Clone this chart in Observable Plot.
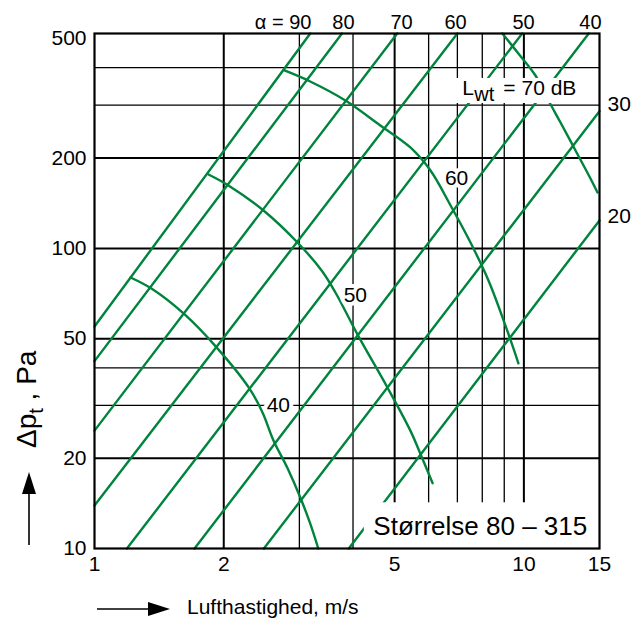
<!DOCTYPE html>
<html>
<head>
<meta charset="utf-8">
<script src="https://cdn.jsdelivr.net/npm/d3@7"></script>
<script src="https://cdn.jsdelivr.net/npm/@observablehq/plot@0.6"></script>
<style>
  html, body { margin: 0; padding: 0; background: #fff; }
</style>
</head>
<body>
<div id="chart"></div>
<script>
// ---------- axes ----------
const speedDomain = [1, 15];          // m/s
const pressureDomain = [10, 520];     // Pa (top border of the drawing)
const xTicks = [1, 2, 5, 10, 15];
const yTicks = [10, 20, 50, 100, 200, 500];
const xGridMajor = [2, 5, 10];
const xGridMinor = [3, 4, 6, 7, 8, 9];
const yGridMajor = [20, 50, 100, 200];
const yGridMinor = [30, 40, 300, 400];

// ---------- damper angle lines (α), two end points each ----------
const alphaAngles = [90, 80, 70, 60, 50, 40, 30, 20];
const alphaStartV = [1, 1, 1, 1, 1.19, 1.71, 2.48, 3.91];
const alphaStartP = [54.9, 42.1, 24.7, 13.9, 10, 10, 10, 10];
const alphaEndV   = [3.18, 3.77, 5.07, 7.00, 9.91, 14.16, 15, 15];
const alphaEndP   = [520, 520, 520, 520, 520, 520, 286.5, 123.9];

// ---------- sound power level curves L_wt ----------
const soundLevels = [40, 50, 60, 70];
const sound40V = [1.213, 1.357, 1.612, 1.924, 2.296, 2.462, 2.611, 2.816, 3.02, 3.18, 3.32];
const sound40P = [80.0, 73.5, 60.7, 46.8, 34.1, 28.4, 22.9, 18.5, 14.7, 12.1, 10];
const sound50V = [1.843, 2.051, 2.475, 2.97, 3.38, 3.64, 4.12, 4.81, 5.44, 5.74, 6.13];
const sound50P = [176.3, 162.1, 133.7, 104.6, 84.4, 71.3, 50.9, 34.4, 24.7, 20.7, 16.5];
const sound60V = [2.77, 3.18, 3.84, 4.63, 5.44, 6.06, 6.75, 7.51, 8.27, 9.06, 9.71];
const sound60P = [391.6, 359.8, 311, 256.8, 216.9, 181.8, 139, 104.6, 78.2, 55.3, 41.4];
const sound70V = [8.91, 9.71, 10.64, 11.41, 12.17, 13.19, 14.29, 14.84];
const sound70P = [520, 446, 376.8, 311, 262.7, 211.9, 171, 153.6];

// ---------- labels ----------
const alphaLabelText = ["α = 90", "80", "70", "60", "50", "40"];
const alphaLabelV = [3.20, 3.80, 5.19, 6.93, 9.98, 14.29];
const sideLabelText = ["30", "20"];
const sideLabelP = [301.6, 127.7];
const curveLabelText = ["60", "50", "40"];
const curveLabelV = [6.97, 4.05, 2.68];
const curveLabelP = [171.7, 69.7, 30.0];
const sizeText = "Størrelse 80 – 315";

// ---------- build tables ----------
const alphaRows = alphaAngles.flatMap((a, i) => [
  {a, v: alphaStartV[i], p: alphaStartP[i]},
  {a, v: alphaEndV[i], p: alphaEndP[i]}
]);
const soundV = [sound40V, sound50V, sound60V, sound70V];
const soundP = [sound40P, sound50P, sound60P, sound70P];
const soundRows = soundLevels.flatMap((lvl, k) =>
  soundV[k].map((v, i) => ({lvl, v, p: soundP[k][i]})));
const alphaLabels = alphaLabelText.map((t, i) => ({t, v: alphaLabelV[i], p: pressureDomain[1]}));
const sideLabels = sideLabelText.map((t, i) => ({t, v: speedDomain[1], p: sideLabelP[i]}));
const curveLabels = curveLabelText.map((t, i) => ({t, v: curveLabelV[i], p: curveLabelP[i]}));

const green = "#00843d";
const ink = "#000";

const chart = Plot.plot({
  width: 633,
  height: 621,
  marginLeft: 94,
  marginRight: 34,
  marginTop: 33,
  marginBottom: 73,
  style: {fontFamily: "'Liberation Sans', Arial, Helvetica, sans-serif", fontSize: "21px", color: ink, background: "#fff", overflow: "visible"},
  x: {type: "log", domain: speedDomain, ticks: xTicks, tickFormat: d => String(d), tickSize: 0, tickPadding: 8, label: null},
  y: {type: "log", domain: pressureDomain, ticks: yTicks, tickFormat: d => String(d), tickSize: 0, tickPadding: 8, label: null},
  marks: [
    Plot.ruleX(xGridMinor, {stroke: ink, strokeWidth: 1.3}),
    Plot.ruleX(xGridMajor, {stroke: ink, strokeWidth: 2}),
    Plot.ruleY(yGridMinor, {stroke: ink, strokeWidth: 1.3}),
    Plot.ruleY(yGridMajor, {stroke: ink, strokeWidth: 2}),
    Plot.line(alphaRows, {x: "v", y: "p", z: "a", stroke: green, strokeWidth: 2.4}),
    Plot.line(soundRows, {x: "v", y: "p", z: "lvl", stroke: green, strokeWidth: 2.4, curve: "catmull-rom"}),
    // white label boxes
    Plot.rect([0], {x1: 6.93, x2: 15, y1: 303.9, y2: 368.3, fill: "#fff"}),
    Plot.rect([0], {x1: 4.25, x2: 15, y1: 10, y2: 14.2, fill: "#fff"}),
    // curve labels with white background
    Plot.text(curveLabels, {x: "v", y: "p", text: "t", fill: ink, stroke: "#fff", strokeWidth: 8, paintOrder: "stroke", fontSize: 21}),
    // L_wt = 70 dB
    Plot.text([0], {x: 7.19, y: 325.6, text: () => "L", textAnchor: "start", lineAnchor: "bottom", fill: ink, fontSize: 21}),
    Plot.text([0], {x: 7.19, y: 325.6, text: () => "wt", textAnchor: "start", lineAnchor: "bottom", dx: 12, dy: 6, fill: ink, fontSize: 20}),
    Plot.text([0], {x: 7.19, y: 325.6, text: () => "= 70 dB", textAnchor: "start", lineAnchor: "bottom", dx: 41, fill: ink, fontSize: 21}),
    // size label
    Plot.text([0], {x: 4.46, y: 11.05, text: () => sizeText, textAnchor: "start", lineAnchor: "bottom", fill: ink, fontSize: 26}),
    Plot.frame({stroke: ink, strokeWidth: 2.2}),
    // alpha labels above the frame
    Plot.text(alphaLabels.slice(0, 1), {x: "v", y: "p", text: "t", textAnchor: "end", dy: -11, fill: ink, fontSize: 20}),
    Plot.text(alphaLabels.slice(1), {x: "v", y: "p", text: "t", textAnchor: "middle", dy: -11, fill: ink, fontSize: 20}),
    // 30 / 20 at the right
    Plot.text(sideLabels, {x: "v", y: "p", text: "t", textAnchor: "start", dx: 8, fill: ink, fontSize: 21})
  ]
});

document.getElementById("chart").appendChild(chart);

// ---------- axis titles and arrows in the margins ----------
const svg = d3.select(chart);
const yTitle = svg.append("text")
  .attr("transform", "translate(36,448) rotate(-90)")
  .attr("text-anchor", "start")
  .attr("font-size", 28)
  .attr("fill", ink);
yTitle.append("tspan").text("Δp");
yTitle.append("tspan").attr("dy", 7).attr("font-size", 20).text("t");
yTitle.append("tspan").attr("dy", -7).text(" , Pa");

svg.append("line").attr("x1", 29).attr("y1", 545).attr("x2", 29).attr("y2", 490)
  .attr("stroke", ink).attr("stroke-width", 1.6);
svg.append("path").attr("d", "M29,472L22,494L36,494Z").attr("fill", ink);

svg.append("line").attr("x1", 97).attr("y1", 609).attr("x2", 152).attr("y2", 609)
  .attr("stroke", ink).attr("stroke-width", 1.6);
svg.append("path").attr("d", "M170,609L148,602L148,616Z").attr("fill", ink);

svg.append("text").attr("x", 187).attr("y", 614).attr("text-anchor", "start")
  .attr("font-size", 21).attr("fill", ink)
  .text("Lufthastighed, m/s");
</script>
</body>
</html>
